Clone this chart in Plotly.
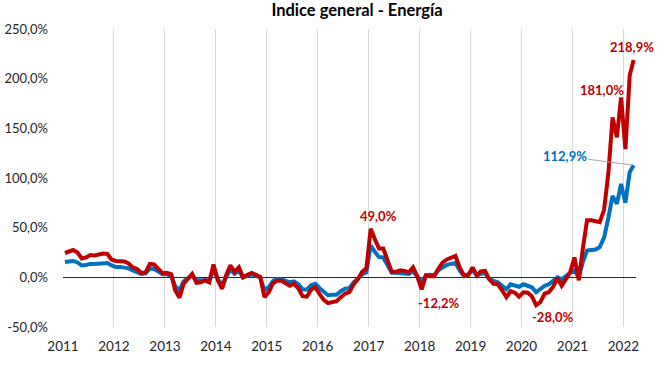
import pandas as pd
import plotly.graph_objects as go

# Monthly periods, Jan 2011 .. Mar 2022 (plotted at mid-month)
start_month = "2011-01-01"
n_months = 135

energia = [  # red series, % YoY
    24.5, 26, 27.5, 25, 19, 20, 22.5, 22, 23, 24, 23.5, 18,          # 2011
    16.5, 16.5, 16, 14, 10, 8.5, 4.5, 5, 13.5, 13, 8.5, 4,           # 2012
    4.5, 3, -13, -20.5, -6.5, -1.5, 3.5, -5.5, -5, -3, -5, 13,       # 2013
    -3, -11.5, 2, 12, 5.5, 10, 0, 2.5, 4.5, 2.5, 0.5, -20,           # 2014
    -15, -6, -3.5, -3.5, -6, -8.5, -6.5, -11, -19, -19.5, -12.5, -10, # 2015
    -17, -23, -26, -25, -24, -20, -16.5, -15, -7, -2, 5.5, 9,        # 2016
    49.0, 38, 29, 29, 17, 5.5, 5.5, 7, 6.5, 5, 10, 1,                # 2017
    -12.2, 2, 1, 1, 8.5, 15, 18, 20, 21.5, 10, 2, 2,                 # 2018
    10, 2, 6, 6.5, -2, -6.5, -7, -13, -20, -14, -15.5, -19.5,        # 2019
    -15, -15.5, -19, -28.0, -25, -16.5, -15, -9.5, -0.5, -8.5, -2.5, 5,  # 2020
    20, -3, 28, 57.5, 57.5, 56, 55.5, 68, 105, 161, 141, 181.0,      # 2021
    129, 203.5, 218.9,                                               # 2022
]

general = [  # blue series, % YoY
    15.5, 16, 16.5, 15, 12, 12.5, 13.5, 13.5, 14, 14, 14.5, 12,      # 2011
    10.5, 10.5, 10, 9, 7, 5.5, 3.5, 4, 9, 8.5, 5.5, 3,               # 2012
    3, 1.5, -9, -13, -4, -1, 2, -3, -3, -2, -3, 8,                   # 2013
    -2, -7.5, 1, 8, 3.5, 6.5, 0, 1.5, 3, 1.5, 0, -13,                # 2014
    -10, -3.5, -2, -2, -3.5, -5, -4, -7, -12, -12.5, -8, -6.5,       # 2015
    -11, -15, -18, -17.5, -17.5, -14, -11.5, -11, -5, -1, 3, 5,      # 2016
    32, 25.5, 20.5, 20, 13, 4.5, 4.5, 4.5, 4.5, 3.5, 6, 1,           # 2017
    -5, 2, 2.5, 2, 7, 10, 12.5, 13.5, 14.5, 7, 1, 3,                 # 2018
    7, 2, 3.5, 4, -1.5, -3.5, -5, -8.5, -12, -7, -8.5, -9.5,         # 2019
    -7, -8.5, -10, -15, -12, -8.5, -7, -3.5, 0, -2, 1.5, 4.5,        # 2020
    7, 0, 15, 27, 27.5, 28, 30.5, 40, 60, 82, 74, 94,                # 2021
    75, 106, 112.9,                                                  # 2022
]

year_ticks = [str(y) for y in range(2011, 2023)]
y_tickvals = [-50, 0, 50, 100, 150, 200, 250]
y_ticktext = ["-50,0%", "0,0%", "50,0%", "100,0%", "150,0%", "200,0%", "250,0%"]

# labelled points: (month index, text)
labels_red = [(72, "49,0%"), (84, "-12,2%"), (111, "-28,0%"), (131, "181,0%"), (134, "218,9%")]
label_blue = (134, "112,9%")

RED = "#C00000"
BLUE = "#0070C0"
FONT = "Lato"
X_RANGE = ["2011-01-01", "2022-04-01"]

months = pd.date_range(start_month, periods=n_months, freq="MS") + pd.Timedelta(days=14)
xdates = [d.strftime("%Y-%m-%d") for d in months]

# paper-fraction of each month (so labels are not clipped by the plot area)
r0, r1 = pd.Timestamp(X_RANGE[0]), pd.Timestamp(X_RANGE[1])
xfrac = [(d - r0) / (r1 - r0) for d in months]

fig = go.Figure()
fig.add_trace(go.Scatter(x=xdates, y=general, mode="lines", name="Indice general",
                         line=dict(color=BLUE, width=4), hoverinfo="skip"))
fig.add_trace(go.Scatter(x=xdates, y=energia, mode="lines", name="Energía",
                         line=dict(color=RED, width=4), hoverinfo="skip"))

shifts = {72: (8, 13), 84: (17, -14), 111: (17, -12), 131: (-19, 8), 134: (-2, 13)}
for idx, txt in labels_red:
    xs, ys = shifts[idx]
    fig.add_annotation(x=xfrac[idx], xref="paper", y=energia[idx], yref="y",
                       xanchor="center", yanchor="middle",
                       text=f"<b>{txt}</b>", showarrow=False,
                       xshift=xs, yshift=ys, font=dict(family=FONT, size=13, color=RED))

bi, btxt = label_blue
fig.add_annotation(x=xfrac[bi], xref="paper", y=general[bi], yref="y",
                   text=f"<b>{btxt}</b>", showarrow=True,
                   arrowhead=0, arrowwidth=1, arrowcolor="#A6A6A6", ax=-69, ay=-9,
                   standoff=2, font=dict(family=FONT, size=13, color=BLUE))

fig.update_layout(
    width=659, height=371,
    margin=dict(l=63, r=23, t=29, b=44, autoexpand=False),
    paper_bgcolor="white", plot_bgcolor="white",
    showlegend=False,
    font=dict(family=FONT, size=13, color="#333333"),
    title=dict(text="<b>Indice general - Energía</b>", x=357 / 659, xanchor="center",
               xref="container", yref="container", y=1 - 10.5 / 371, yanchor="middle",
               font=dict(family=FONT, size=16.5, color="#000000")),
)
fig.update_xaxes(
    type="date", range=X_RANGE,
    tickvals=[f"{y}-01-01" for y in year_ticks], ticktext=year_ticks,
    showgrid=True, gridcolor="#D9D9D9", gridwidth=1,
    showline=False, zeroline=False, ticks="", ticklabelstandoff=9, automargin=False,
    tickfont=dict(family=FONT, size=13.5, color="#262626"),
)
fig.update_yaxes(
    range=[-50, 250], tickvals=y_tickvals, ticktext=y_ticktext,
    showgrid=False, zeroline=True, zerolinecolor="#262626", zerolinewidth=1,
    showline=False, ticks="", ticklabelstandoff=14, automargin=False,
    tickfont=dict(family=FONT, size=13, color="#262626"),
)

fig.write_html("out.html",
               config={"displayModeBar": False},
               post_script="document.body.style.margin='0';document.body.style.padding='0';")
